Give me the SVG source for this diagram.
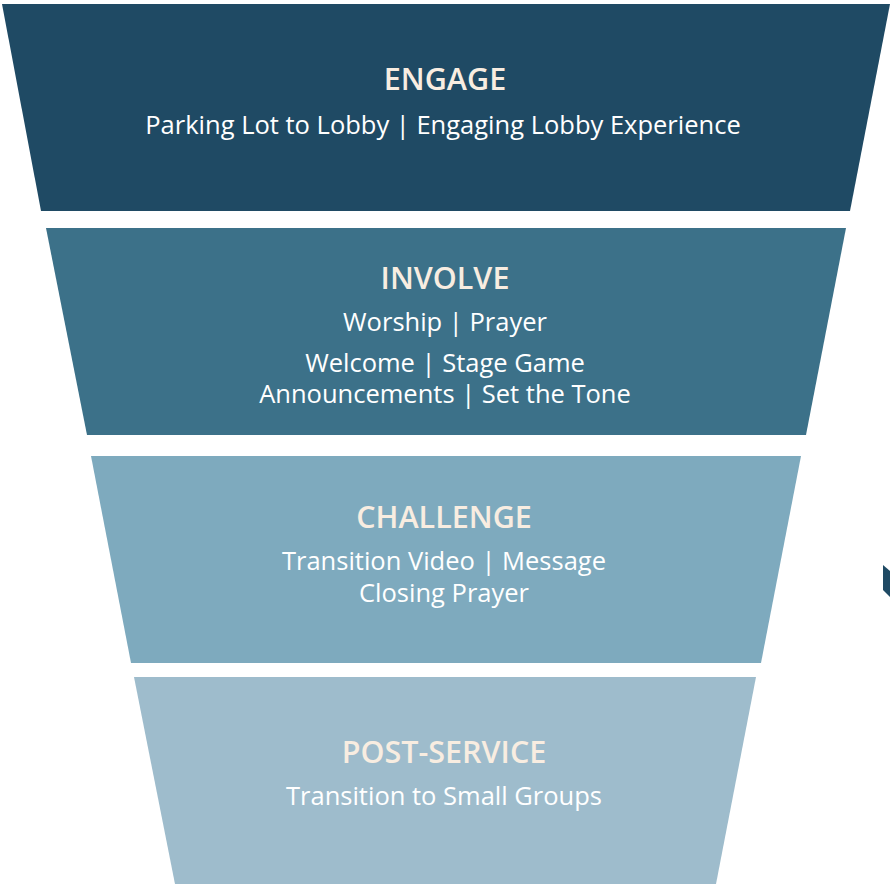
<svg xmlns="http://www.w3.org/2000/svg" width="890" height="884" viewBox="0 0 890 884">
<style>
.t{font-family:"Open Sans",Lato,"Liberation Sans",sans-serif;font-weight:600;font-size:30.5px;fill:#f8ede1;text-anchor:middle}
.s{font-family:"Open Sans",Lato,"Liberation Sans",sans-serif;font-size:25.5px;fill:#ffffff;text-anchor:middle}
</style>
<rect width="890" height="884" fill="#ffffff"/>
<g id="engage">
<polygon points="2,4 890,4 850,211 41,211" fill="#1f4a64"/>
<text class="t" x="445" y="90">ENGAGE</text>
<text class="s" x="443" y="134">Parking Lot to Lobby | Engaging Lobby Experience</text>
</g>
<g id="involve">
<polygon points="46,228 846,228 806,435 87,435" fill="#3c7189"/>
<text class="t" x="445" y="289">INVOLVE</text>
<text class="s" x="445" y="331">Worship | Prayer</text>
<text class="s" x="445" y="372">Welcome | Stage Game</text>
<text class="s" x="445" y="403">Announcements | Set the Tone</text>
</g>
<g id="challenge">
<polygon points="91,456 801,456 761,663 131,663" fill="#7eaabe"/>
<text class="t" x="444" y="528">CHALLENGE</text>
<text class="s" x="444" y="570">Transition Video | Message</text>
<text class="s" x="444" y="602">Closing Prayer</text>
</g>
<g id="post-service">
<polygon points="134,677 756,677 716,884 175,884" fill="#9ebccc"/>
<text class="t" x="444" y="763">POST-SERVICE</text>
<text class="s" x="444" y="805">Transition to Small Groups</text>
</g>
<g id="connectors">
<polygon points="883,565 890,571 890,597 883,590" fill="#1f4a64"/>
</g>
</svg>
